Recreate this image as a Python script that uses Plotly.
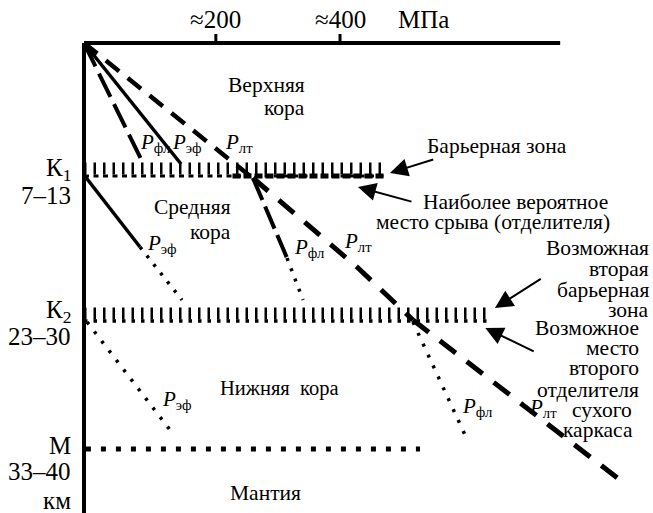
import plotly.graph_objects as go

# Schematic axes: x = stress (MPa), y = schematic depth units (0 = surface, increasing downward)
stress_tick_vals = [206, 400]
stress_tick_labels = ["≈200", "≈400"]
stress_unit = "МПа"
axis_x_end = 744
axis_y_end = 470
tick_len = 9

# Upper crust
pfl_up_x, pfl_up_y = [0, 90.6], [0, 118]
pef_up_x, pef_up_y = [0, 151.6], [0, 121]
plt_up_x, plt_up_y = [0, 259.4], [0, 133]
# Middle crust
pef_mid_solid_x, pef_mid_solid_y = [0, 87.5], [132, 204]
pef_mid_dot_x, pef_mid_dot_y = [87.5, 153.1], [204, 257]
pfl_mid_dash_x, pfl_mid_dash_y = [264, 317.2], [135, 215]
pfl_mid_dot_x, pfl_mid_dot_y = [317.2, 342.2], [215, 257]
plt_mid_x, plt_mid_y = [264, 426.6, 514], [135, 224, 277]
# Lower crust
pef_low_x, pef_low_y = [4.7, 134.4], [279, 387]
pfl_low_x, pfl_low_y = [514, 595.3], [279, 392]
plt_low_x, plt_low_y = [514, 837.5], [277, 437]
# Moho
moho_x, moho_y = [3, 525], [406, 406]
# Barrier zones (x extent, top/base depth)
k1_zone_x, k1_zone_y = [0, 470], [120, 133]
k1_heavy_x = [232, 470]
k2_zone_x, k2_zone_y = [0, 630], [265, 278]

# Depth boundary labels (label, depth)
depth_labels = [("К<sub>1</sub>", 126), ("7–13", 152), ("К<sub>2</sub>", 268), ("23–30", 293),
                ("М", 402), ("33–40", 428), ("км", 457)]

FONT = "Liberation Serif"
BLACK = "black"
BODY = 21.5
AXIS = 25

fig = go.Figure()


def add_line(x, y, width, dash="solid"):
    fig.add_trace(go.Scatter(x=x, y=y, mode="lines", hoverinfo="skip", showlegend=False,
                             line=dict(color=BLACK, width=width, dash=dash)))


# axes
add_line([0, axis_x_end], [0, 0], 4)
add_line([0, 0], [0, axis_y_end], 4)
for tv in stress_tick_vals:
    add_line([tv, tv], [-tick_len, 0], 3)

# barrier zones: hatch strokes (thick dashed band) + dotted base line
for zx, zy in [(k1_zone_x, k1_zone_y), (k2_zone_x, k2_zone_y)]:
    mid = (zy[0] + zy[1]) / 2 - 1
    add_line(zx, [mid, mid], 12, "2.5px,7px")
add_line(k1_zone_x, [k1_zone_y[1]] * 2, 3, "5px,4.5px")
add_line(k1_heavy_x, [k1_zone_y[1]] * 2, 5, "8px,3px")
add_line(k2_zone_x, [k2_zone_y[1]] * 2, 3.5, "3.5px,6px")

# upper crust
add_line(pfl_up_x, pfl_up_y, 4, "26px,8px")
add_line(pef_up_x, pef_up_y, 3.5)
add_line(plt_up_x, plt_up_y, 4.5, "17px,11px")
# middle crust
add_line(pef_mid_solid_x, pef_mid_solid_y, 3.5)
add_line(pef_mid_dot_x, pef_mid_dot_y, 3.5, "3px,8px")
add_line(pfl_mid_dash_x, pfl_mid_dash_y, 4, "24px,7px")
add_line(pfl_mid_dot_x, pfl_mid_dot_y, 3.5, "3px,8px")
add_line(plt_mid_x, plt_mid_y, 5, "20px,14px")
# lower crust
add_line(pef_low_x, pef_low_y, 3.5, "3px,9px")
add_line(pfl_low_x, pfl_low_y, 3.5, "3px,9px")
add_line(plt_low_x, plt_low_y, 5, "20px,14px")
# Moho
add_line(moho_x, moho_y, 5, "5px,10px")

ann = []


def text(x, y, s, size=BODY, xanchor="center", xref="x", yref="y"):
    ann.append(dict(x=x, y=y, xref=xref, yref=yref, text=s, showarrow=False,
                    xanchor=xanchor, yanchor="middle",
                    font=dict(family=FONT, size=size, color=BLACK)))


def plabel(x, y, sub):
    text(x, y, "<i>P</i><sub>" + sub + "</sub>", 21, "left")


def arrow(x_head, y_head, x_tail, y_tail):
    ann.append(dict(x=x_head, y=y_head, ax=x_tail, ay=y_tail, xref="x", yref="y",
                    axref="x", ayref="y", text="", showarrow=True, arrowhead=2,
                    arrowsize=1.8, arrowwidth=2, arrowcolor=BLACK))


# top axis labels (above the plotting area -> paper y)
for tv, tl in zip(stress_tick_vals, stress_tick_labels):
    text(tv, 1.025, tl, AXIS, yref="paper")
text(531, 1.025, stress_unit, AXIS, yref="paper")

# left depth labels (left of the plotting area -> paper x)
for s, d in depth_labels:
    text(-0.005, d, s, AXIS, "right", xref="paper")

# region labels
text(348, 42, "Верхняя", BODY, "right")
text(348, 65, "кора", BODY, "right")
text(233, 164, "Средняя", BODY, "right")
text(233, 189, "кора", BODY, "right")
text(209, 345, "Нижняя  кора", 20.5, "left")
text(284, 450, "Мантия", BODY)

# P labels
plabel(84, 100, "фл")
plabel(134, 100, "эф")
plabel(217, 100, "лт")
plabel(95, 201, "эф")
plabel(325, 205, "фл")
plabel(403, 199, "лт")
plabel(119, 357, "эф")
plabel(587, 364, "фл")
plabel(692, 365, "лт")

# right-hand notes
text(533, 103, "Барьерная зона", BODY, "left")
text(822, 159, "Наиболее вероятное", BODY, "right")
text(825, 179, "место срыва (отделителя)", BODY, "right")
for s, d in [("Возможная", 205), ("вторая", 226), ("барьерная", 247), ("зона", 267)]:
    text(886, d, s, BODY, "right")
for s, d in [("Возможное", 285), ("место", 305), ("второго", 325), ("отделителя", 347)]:
    text(871, d, s, BODY, "right")
text(809, 367, "сухого", BODY)
text(803, 387, "каркаса", BODY)

# arrows
arrow(478, 130, 548, 116)
arrow(428, 144, 514, 159)
arrow(642, 265, 716, 235)
arrow(627, 285, 705, 309)

fig.update_layout(
    width=653, height=513,
    margin=dict(l=76, r=0, t=32, b=0),
    paper_bgcolor="white", plot_bgcolor="white",
    font=dict(family=FONT),
    xaxis=dict(range=[-12.5, 889], visible=False, fixedrange=True),
    yaxis=dict(range=[470, -11], visible=False, fixedrange=True),
    annotations=ann,
    showlegend=False,
)

# remove the default page margin so the figure sits at the window's top-left corner
fig.write_html("out.html", config={"displayModeBar": False},
               post_script="document.body.style.margin='0';")
